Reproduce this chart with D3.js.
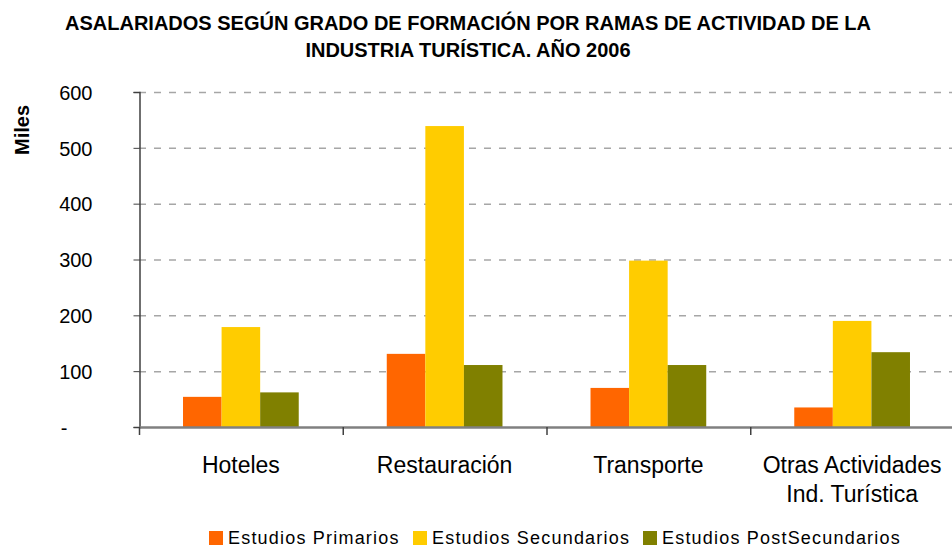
<!DOCTYPE html>
<head>
  <meta charset="utf-8">
  <title>Asalariados según grado de formación</title>
  <script src="https://cdn.jsdelivr.net/npm/d3@7"></script>
  <style>
    body { margin: 0; background: #fff; }
    svg { font-family: Arial, "Liberation Sans", sans-serif; }
  </style>
</head>
<body>
<div id="container"></div>
<script>

  // data (miles)
  let categories = ["Hoteles", "Restauración", "Transporte", "Otras Actividades|Ind. Turística"];
  let seriesNames = ["Estudios Primarios", "Estudios Secundarios", "Estudios PostSecundarios"];
  let primarios = [54, 131, 70, 35];
  let secundarios = [179, 539, 298, 190];
  let postSecundarios = [62, 111, 111, 134];
  let yTicks = [0, 100, 200, 300, 400, 500, 600];
  let yTickLabels = ["-", "100", "200", "300", "400", "500", "600"];

  let colors = ["#ff6600", "#ffcc00", "#808000"];

  let svg_width = 952;
  let svg_height = 548;

  let padding = {top: 92, right: -2, bottom: 121, left: 139};

  let table = categories.map(function (c, i) {
    return {cat: c, values: [primarios[i], secundarios[i], postSecundarios[i]]};
  });

  let svg = d3.select("#container").append("svg")
          .attr("width", svg_width)
          .attr("height", svg_height);

  let xScale = d3.scaleBand()
          .domain(categories)
          .range([padding.left, svg_width - padding.right]);

  let bw = xScale.bandwidth();
  let xInner = d3.scaleBand()
          .domain(d3.range(seriesNames.length))
          .range([bw * 0.216, bw * 0.784]);

  let yScale = d3.scaleLinear()
          .domain([0, 600])
          .range([svg_height - padding.bottom, padding.top]);

  // dashed gridlines
  svg.append("g")
          .selectAll("line")
          .data(yTicks.slice(1))
          .enter()
          .append("line")
          .attr("x1", padding.left)
          .attr("x2", svg_width)
          .attr("y1", function (d) { return yScale(d) + 0.5; })
          .attr("y2", function (d) { return yScale(d) + 0.5; })
          .attr("stroke", "#a6a6a6")
          .attr("stroke-width", 1.5)
          .attr("stroke-dasharray", "7,8");

  // bars
  let groups = svg.selectAll(".grp")
          .data(table)
          .enter()
          .append("g")
          .attr("class", "grp")
          .attr("transform", function (d) { return "translate(" + xScale(d.cat) + ",0)"; });

  groups.selectAll("rect")
          .data(function (d) { return d.values; })
          .enter()
          .append("rect")
          .attr("x", function (d, i) { return xInner(i); })
          .attr("y", function (d) { return yScale(d); })
          .attr("width", xInner.bandwidth())
          .attr("height", function (d) { return yScale(0) - yScale(d); })
          .attr("fill", function (d, i) { return colors[i]; });

  // y axis
  let y_axis = d3.axisLeft(yScale)
          .tickValues(yTicks)
          .tickSize(6)
          .tickFormat(function (d, i) { return yTickLabels[i]; });

  let yg = svg.append("g")
          .attr("transform", "translate(" + (padding.left + 0.5) + ",0)")
          .call(y_axis);
  yg.select(".domain").attr("stroke", "#404040").attr("stroke-width", 1.5);
  yg.selectAll(".tick line").attr("stroke", "#404040");
  yg.selectAll(".tick text")
          .attr("x", -47)
          .attr("dy", "0.36em")
          .style("font-size", "20px")
          .style("fill", "#000")
          .attr("font-family", "Arial, 'Liberation Sans', sans-serif");
  yg.selectAll(".tick text")
          .filter(function (d) { return d === 0; })
          .attr("x", -72);

  // x axis (baseline + category ticks)
  let x_axis = d3.axisBottom(xScale)
          .tickSize(0)
          .tickFormat("");
  let xg = svg.append("g")
          .attr("transform", "translate(0," + yScale(0) + ")")
          .call(x_axis);
  xg.select(".domain").attr("stroke", "#808080").attr("stroke-width", 2.5);

  svg.append("g")
          .selectAll("line")
          .data(categories.slice(1))
          .enter()
          .append("line")
          .attr("x1", function (d) { return xScale(d) + 0.5; })
          .attr("x2", function (d) { return xScale(d) + 0.5; })
          .attr("y1", yScale(0))
          .attr("y2", yScale(0) + 8)
          .attr("stroke", "#404040")
          .attr("stroke-width", 1.5);
  svg.append("line")
          .attr("x1", padding.left + 0.5)
          .attr("x2", padding.left + 0.5)
          .attr("y1", yScale(0))
          .attr("y2", yScale(0) + 8)
          .attr("stroke", "#404040")
          .attr("stroke-width", 1.5);

  // category labels
  let catText = svg.append("g")
          .selectAll("text")
          .data(categories)
          .enter()
          .append("text")
          .attr("x", function (d) { return xScale(d) + bw / 2; })
          .attr("y", 473)
          .style("text-anchor", "middle")
          .style("font-size", "23px");
  catText.each(function (d) {
    let parts = d.split("|");
    let t = d3.select(this);
    parts.forEach(function (p, i) {
      t.append("tspan")
              .attr("x", xScale(d) + bw / 2)
              .attr("dy", i === 0 ? 0 : 29)
              .text(p);
    });
  });

  // title
  svg.append("text")
          .attr("x", 468)
          .attr("y", 30)
          .style("text-anchor", "middle")
          .style("font-size", "20px")
          .style("font-weight", "bold")
          .text("ASALARIADOS SEGÚN GRADO DE FORMACIÓN POR RAMAS DE ACTIVIDAD DE LA");
  svg.append("text")
          .attr("x", 468)
          .attr("y", 57)
          .style("text-anchor", "middle")
          .style("font-size", "20px")
          .style("font-weight", "bold")
          .text("INDUSTRIA TURÍSTICA. AÑO 2006");

  // y axis title
  svg.append("text")
          .attr("transform", "translate(29,130) rotate(-90)")
          .style("text-anchor", "middle")
          .style("font-size", "20px")
          .style("font-weight", "bold")
          .text("Miles");

  // legend
  let legendX = [209, 413, 643];
  let legend = svg.append("g")
          .selectAll("g")
          .data(seriesNames)
          .enter()
          .append("g")
          .attr("transform", function (d, i) { return "translate(" + legendX[i] + ",531)"; });
  legend.append("rect")
          .attr("width", 14)
          .attr("height", 14)
          .attr("fill", function (d, i) { return colors[i]; });
  legend.append("text")
          .attr("x", 19)
          .attr("y", 13)
          .style("font-size", "18px")
          .style("letter-spacing", "1.2px")
          .text(function (d) { return d; });

</script>
</body>
